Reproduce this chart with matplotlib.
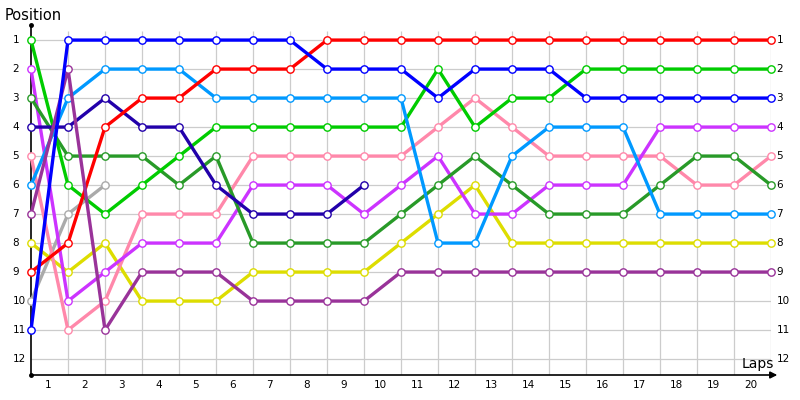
import matplotlib
matplotlib.use("Agg")
import matplotlib.pyplot as plt

# positions per lap (lap 0 = grid)
red        = [9, 8, 4, 3, 3, 2, 2, 2, 1, 1, 1, 1, 1, 1, 1, 1, 1, 1, 1, 1, 1]
blue       = [11, 1, 1, 1, 1, 1, 1, 1, 2, 2, 2, 3, 2, 2, 2, 3, 3, 3, 3, 3, 3]
light_blue = [6, 3, 2, 2, 2, 3, 3, 3, 3, 3, 3, 8, 8, 5, 4, 4, 4, 7, 7, 7, 7]
green      = [1, 6, 7, 6, 5, 4, 4, 4, 4, 4, 4, 2, 4, 3, 3, 2, 2, 2, 2, 2, 2]
dark_blue  = [4, 4, 3, 4, 4, 6, 7, 7, 7, 6]
dark_green = [3, 5, 5, 5, 6, 5, 8, 8, 8, 8, 7, 6, 5, 6, 7, 7, 7, 6, 5, 5, 6]
pink       = [5, 11, 10, 7, 7, 7, 5, 5, 5, 5, 5, 4, 3, 4, 5, 5, 5, 5, 6, 6, 5]
magenta    = [2, 10, 9, 8, 8, 8, 6, 6, 6, 7, 6, 5, 7, 7, 6, 6, 6, 4, 4, 4, 4]
yellow     = [8, 9, 8, 10, 10, 10, 9, 9, 9, 9, 8, 7, 6, 8, 8, 8, 8, 8, 8, 8, 8]
purple     = [7, 2, 11, 9, 9, 9, 10, 10, 10, 10, 9, 9, 9, 9, 9, 9, 9, 9, 9, 9, 9]
gray       = [10, 7, 6]

series = [
    (gray, '#aaaaaa'),
    (yellow, '#dddd00'),
    (pink, '#ff88aa'),
    (magenta, '#cc33ff'),
    (dark_green, '#289a28'),
    (green, '#00cc00'),
    (light_blue, '#0099ff'),
    (dark_blue, '#2200aa'),
    (red, '#ff0000'),
    (purple, '#993399'),
    (blue, '#0000ff'),
]

n_laps = 20
positions = list(range(1, 13))
lap_labels = [str(i) for i in range(1, n_laps + 1)]

fig = plt.figure(figsize=(8, 4), dpi=100)
ax = fig.add_axes([31 / 800, 25 / 400, 740 / 800, 350 / 400])
ax.set_xlim(0, n_laps)
ax.set_ylim(12.55, 0.48)
ax.axis('off')

# grid
ax.hlines(positions, 0, n_laps, color='#cccccc', lw=0.9, zorder=1)
ax.vlines(range(1, n_laps + 1), 0.7, 12.55, color='#cccccc', lw=0.9, zorder=1)

# axes lines
ax.plot([0, 0], [0.48, 12.55], color='black', lw=1.2, clip_on=False, zorder=2)
ax.plot([0, 0], [0.48, 12.55], 'o', color='black', ms=2.5, clip_on=False, zorder=2)
ax.annotate('', xy=(20.17, 12.55), xytext=(0, 12.55),
            arrowprops=dict(arrowstyle='-|>', color='black', lw=1.2,
                            mutation_scale=10, shrinkA=0, shrinkB=0),
            annotation_clip=False, zorder=2)

for vals, col in series:
    ax.plot(range(len(vals)), vals, color=col, lw=2.4, marker='o', ms=5.3,
            mfc='white', mec=col, mew=1.0, clip_on=False, zorder=3)

# labels
for p in positions:
    ax.text(-0.5, p, str(p), ha='left', va='center', fontsize=7.5, clip_on=False)
    ax.text(20.15, p, str(p), ha='left', va='center', fontsize=7.5, clip_on=False)
for i, lab in enumerate(lap_labels):
    ax.text(i + 0.45, 12.9, lab, ha='center', va='center', fontsize=7.5, clip_on=False)

fig.text(5 / 800, 1 - 16 / 400, 'Position', ha='left', va='center', fontsize=10.5)
fig.text(774 / 800, 1 - 364 / 400, 'Laps', ha='right', va='center', fontsize=10)

fig.savefig('out.png', dpi=100)
